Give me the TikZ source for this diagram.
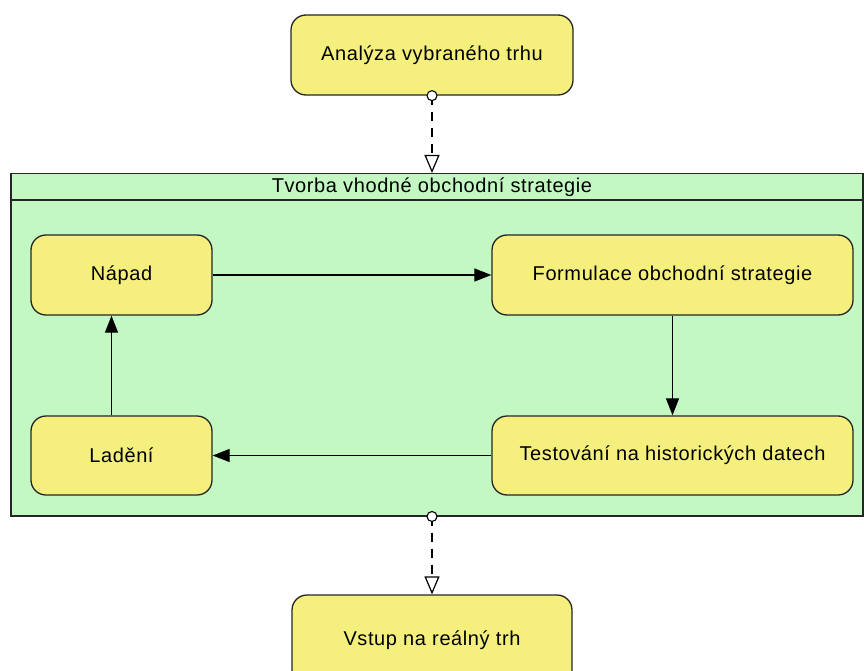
\documentclass[tikz,border=0pt]{standalone}
\usepackage{fontspec}
\setmainfont{Liberation Sans}[LetterSpace=3]
\usetikzlibrary{arrows.meta}
\definecolor{boxyellow}{RGB}{245,240,125}
\definecolor{boxgreen}{RGB}{195,248,195}
\begin{document}
\begin{tikzpicture}[x=1pt,y=-1pt,
  act/.style={draw=black!85, line width=1.3pt, fill=boxyellow, rounded corners=15pt, inner sep=0pt, font=\fontsize{20}{24}\selectfont},
  flow/.style={draw=black, line width=1.2pt, -{Triangle[length=17pt,width=13pt]}},
  depend/.style={draw=black, line width=1.2pt, dash pattern=on 9pt off 7pt, -{Triangle[open,length=18pt,width=15pt,fill=white]}},
  port/.style={circle, draw=black, line width=1.1pt, fill=white, minimum size=10pt, inner sep=0pt}]
\useasboundingbox (0,0) rectangle (864,671);
\fill[white] (0,0) rectangle (864,671);
% container
\node[draw=black!85, line width=1.5pt, fill=boxgreen, minimum width=852pt, minimum height=342pt, anchor=north west, inner sep=0pt] (cont) at (10,173) {};
\coordinate (hl) at (10,200);
\coordinate (hr) at (862,200);
\draw[black!85, line width=1.3pt] (hl) -- (hr);
\node[font=\fontsize{20}{24}\selectfont] (title) at (432,187) {Tvorba vhodné obchodní strategie};
% activities
\node[act, minimum width=282pt, minimum height=80pt] (analyza) at (432,55) {Analýza vybraného trhu};
\node[act, minimum width=181pt, minimum height=80pt] (napad) at (121.5,275) {Nápad};
\node[act, minimum width=361pt, minimum height=80pt] (formulace) at (672.5,275) {Formulace obchodní strategie};
\node[act, minimum width=181pt, minimum height=79pt] (ladeni) at (121.5,455.5) {Ladění};
\node[act, minimum width=361pt, minimum height=79pt] (testovani) at (672.5,455.5) {Testování na historických datech};
\node[act, minimum width=280pt, minimum height=90pt] (vstup) at (432,640) {Vstup na reálný trh};
% flows
\draw[flow] (napad.east) -- (formulace.west);
\draw[flow] (formulace.south) -- (testovani.north);
\draw[flow] (testovani.west) -- (ladeni.east);
\draw[flow] ([xshift=-10pt]ladeni.north) -- ([xshift=-10pt]napad.south);
% dependencies
\coordinate (c1) at (analyza.south |- cont.north);
\coordinate (c2) at (analyza.south |- cont.south);
\draw[depend] (analyza.south) -- (c1);
\draw[depend] (c2) -- (vstup.north);
\node[port] (p1) at (analyza.south) {};
\node[port] (p2) at (c2) {};
\end{tikzpicture}
\end{document}
